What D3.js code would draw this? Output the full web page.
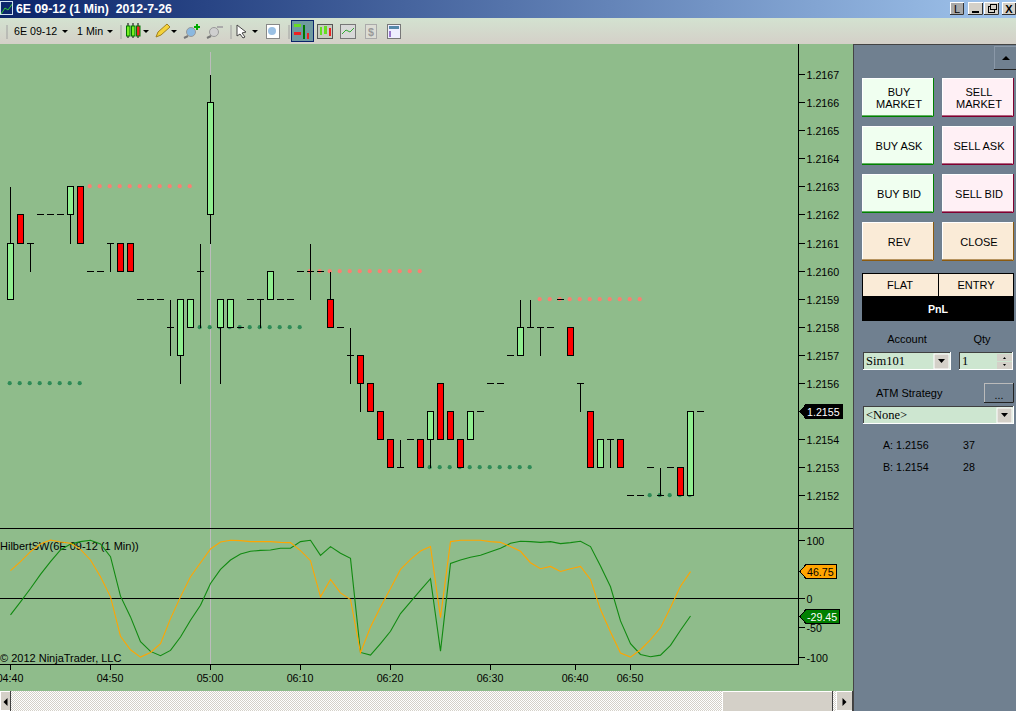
<!DOCTYPE html>
<html><head><meta charset="utf-8">
<style>html,body{margin:0;padding:0;background:#708090;overflow:hidden}svg{display:block}text{font-family:"Liberation Sans",Arial,sans-serif;font-size:10.67px;fill:#000}</style>
<script src="https://cdn.jsdelivr.net/npm/d3@7"></script></head><body><div id="c"></div>
<script>
const titleText = "6E 09-12 (1 Min)  2012-7-26";
const opens = [1.2159,1.2162,1.2161,1.2162,1.2162,1.2162,1.2162,1.2163,1.2160,1.2160,1.2161,1.2161,1.2161,1.2159,1.2159,1.2159,1.2158,1.2157,1.2158,1.2160,1.2162,1.2158,1.2158,1.2158,1.2159,1.2159,1.2159,1.2159,1.2159,1.2160,1.2160,1.2160,1.2159,1.2158,1.2157,1.2157,1.2156,1.2155,1.2154,1.2153,1.2154,1.2154,1.2154,1.2156,1.2155,1.2154,1.2154,1.2155,1.2156,1.2156,1.2157,1.2157,1.2158,1.2158,1.2158,1.2159,1.2158,1.2156,1.2155,1.2153,1.2154,1.2154,1.2152,1.2152,1.2153,1.2152,1.2153,1.2153,1.2152,1.2155];
const highs = [1.2163,1.2162,1.2161,1.2162,1.2162,1.2162,1.2163,1.2163,1.2160,1.2160,1.2161,1.2161,1.2161,1.2159,1.2159,1.2159,1.2159,1.2159,1.2159,1.2161,1.2167,1.2159,1.2159,1.2158,1.2159,1.2159,1.2160,1.2159,1.2159,1.2160,1.2161,1.2160,1.2160,1.2158,1.2158,1.2157,1.2156,1.2155,1.2154,1.2154,1.2154,1.2154,1.2155,1.2156,1.2155,1.2154,1.2155,1.2155,1.2156,1.2156,1.2157,1.2159,1.2159,1.2158,1.2158,1.2159,1.2158,1.2156,1.2155,1.2154,1.2154,1.2154,1.2152,1.2152,1.2153,1.2153,1.2153,1.2153,1.2155,1.2155];
const lows = [1.2159,1.2161,1.2160,1.2162,1.2162,1.2162,1.2161,1.2161,1.2160,1.2160,1.2160,1.2160,1.2160,1.2159,1.2159,1.2159,1.2157,1.2156,1.2158,1.2158,1.2161,1.2156,1.2158,1.2158,1.2159,1.2158,1.2159,1.2159,1.2159,1.2160,1.2159,1.2160,1.2158,1.2158,1.2156,1.2155,1.2155,1.2154,1.2153,1.2153,1.2154,1.2153,1.2153,1.2154,1.2154,1.2153,1.2154,1.2155,1.2156,1.2156,1.2157,1.2157,1.2158,1.2157,1.2158,1.2159,1.2157,1.2155,1.2153,1.2153,1.2153,1.2153,1.2152,1.2152,1.2153,1.2152,1.2153,1.2152,1.2152,1.2155];
const closes = [1.2161,1.2161,1.2161,1.2162,1.2162,1.2162,1.2163,1.2161,1.2160,1.2160,1.2161,1.2160,1.2160,1.2159,1.2159,1.2159,1.2158,1.2159,1.2159,1.2160,1.2166,1.2159,1.2159,1.2158,1.2159,1.2159,1.2160,1.2159,1.2159,1.2160,1.2160,1.2160,1.2158,1.2158,1.2157,1.2156,1.2155,1.2154,1.2153,1.2153,1.2154,1.2153,1.2155,1.2154,1.2154,1.2153,1.2155,1.2155,1.2156,1.2156,1.2157,1.2158,1.2158,1.2158,1.2158,1.2159,1.2157,1.2156,1.2153,1.2154,1.2154,1.2153,1.2152,1.2152,1.2153,1.2152,1.2153,1.2152,1.2155,1.2155];
const redStops = [[8,18,1.2163],[30,41,1.2160],[53,63,1.2159]];
const greenStops = [[0,7,1.2156],[19,29,1.2158],[42,52,1.2153],[64,68,1.2152]];
const hilbertOrange = [48.3,63.8,81,94,101,97.7,95.4,85,66.7,38,3.4,-64.4,-87.4,-100,-92,-77,-33.9,3.4,38,62,85.6,97.7,100.6,100,98.3,98.3,98.3,97,96.6,82.8,65.5,3.4,33.3,10.3,-1.1,-92.5,-48.3,-13.8,17.8,50.6,67.8,82.2,89.7,-32.2,98.3,100.6,100.6,100.6,98.3,97,89.7,81.6,62,51.7,55.7,47,51.7,55.7,33.3,-18.4,-56.9,-93.1,-100,-87.4,-70.1,-49.4,-14.9,21.8,46.75];
const hilbertGreen = [-27.6,-5.2,17.8,42,63.8,83.9,94.3,98.3,100.6,94.3,72.4,4.6,-31,-73.6,-90.2,-97.7,-88.5,-65.5,-36.8,-10.9,26.4,50.6,66.7,77,81.6,83.3,83.9,86.8,86.8,98.3,100.6,74.7,89.7,78.2,69.5,-92,-96.6,-77,-55.7,-25.3,-5.2,14.9,34.5,-89.7,60.9,66.7,71.3,74.7,81,86.8,95.4,98.9,98.3,97,98.3,94.8,96.6,98.9,89.7,56.3,20.7,-37.9,-77,-95.4,-99.4,-96.6,-79.9,-54,-29.45];
const priceTicks = [1.2152,1.2153,1.2154,1.2155,1.2156,1.2157,1.2158,1.2159,1.2160,1.2161,1.2162,1.2163,1.2164,1.2165,1.2166,1.2167];
const indicatorTicks = [100,0,-50,-100];
const timeTickIndex = [0,10,20,29,38,48,56.5,62];
const timeTickLabel = ["04:40","04:50","05:00","06:10","06:20","06:30","06:40","06:50"];
const cursorIndex = 20;
const lastPrice = 1.2155;
const buttonRows = [["BUY\nMARKET","SELL\nMARKET"],["BUY ASK","SELL ASK"],["BUY BID","SELL BID"],["REV","CLOSE"]];
const quotes = [["A: 1.2156","37"],["B: 1.2154","28"]];

const svg = d3.select("#c").append("svg").attr("width",1016).attr("height",711);
const defs = svg.append("defs");
const tg = defs.append("linearGradient").attr("id","tg");
tg.append("stop").attr("offset",0).attr("stop-color","#0a246a");
tg.append("stop").attr("offset",1).attr("stop-color","#a0c4ec");
const bg = defs.append("linearGradient").attr("id","bg").attr("x2",0).attr("y2",1);
bg.append("stop").attr("offset",0).attr("stop-color","#d3e2d0");
bg.append("stop").attr("offset",1).attr("stop-color","#d4d0c8");
const pat = defs.append("pattern").attr("id","chk").attr("width",2).attr("height",2).attr("patternUnits","userSpaceOnUse");
pat.append("rect").attr("width",2).attr("height",2).attr("fill","#fff");
pat.append("rect").attr("width",1).attr("height",1).attr("fill","#d4d0c8");
pat.append("rect").attr("x",1).attr("y",1).attr("width",1).attr("height",1).attr("fill","#d4d0c8");

const R = (g,x,y,w,h,f,s) => g.append("rect").attr("x",x).attr("y",y).attr("width",w).attr("height",h).attr("fill",f).attr("stroke",s||"none");
const T = (g,x,y,t,a,extra) => { const e=g.append("text").attr("x",x).attr("y",y).attr("text-anchor",a||"start").text(t); if(extra) Object.entries(extra).forEach(([k,v])=>e.style(k,v)); return e; };
const snap = v => Math.floor(v)+.5;

// plot background
R(svg,0,44,853,647,"#8fbc8b");

const x = d3.scaleLinear().domain([0,68]).range([10.5,690.5]);
const yP = d3.scaleLinear().domain([1.2152,1.2167]).range([495.9,74.475]);
const yI = d3.scaleLinear().domain([-100,100]).range([657.1,540.6]);

// cursor line
const plot = svg.append("g");
plot.append("line").attr("x1",x(cursorIndex)).attr("x2",x(cursorIndex)).attr("y1",52).attr("y2",664).attr("stroke","#bcbcbc");

// stops
const stopG = plot.append("g");
function dots(list,col){ list.forEach(([a,b,p])=>{ stopG.selectAll(null).data(d3.range(a,b+1)).enter().append("circle").attr("cx",d=>x(d)-.8).attr("cy",snap(yP(p))-.3).attr("r",2.1).attr("fill",col); }); }

// candles
const idx = d3.range(opens.length);
const cG = plot.append("g").attr("stroke","#000").attr("shape-rendering","crispEdges");
cG.selectAll("line.w").data(idx.filter(i=>highs[i]>lows[i])).enter().append("line").attr("class","w")
 .attr("x1",x).attr("x2",x).attr("y1",i=>snap(yP(highs[i]))).attr("y2",i=>snap(yP(lows[i])));
cG.selectAll("line.d").data(idx.filter(i=>opens[i]===closes[i])).enter().append("line").attr("class","d")
 .attr("x1",i=>x(i)-3.5).attr("x2",i=>x(i)+3.5).attr("y1",i=>snap(yP(opens[i]))).attr("y2",i=>snap(yP(opens[i])));
cG.selectAll("rect").data(idx.filter(i=>opens[i]!==closes[i])).enter().append("rect")
 .attr("x",i=>x(i)-3).attr("width",6)
 .attr("y",i=>snap(yP(Math.max(opens[i],closes[i]))))
 .attr("height",i=>snap(yP(Math.min(opens[i],closes[i])))-snap(yP(Math.max(opens[i],closes[i]))))
 .attr("fill",i=>closes[i]>opens[i]?"#90ee90":"#ff0000");
dots(redStops,"#fa8072"); dots(greenStops,"#2e8b57");

// frame lines
const fr = svg.append("g").attr("stroke","#000").attr("shape-rendering","crispEdges");
fr.append("line").attr("x1",0).attr("x2",853).attr("y1",528.5).attr("y2",528.5);
fr.append("line").attr("x1",0).attr("x2",798.5).attr("y1",664.5).attr("y2",664.5);
fr.append("line").attr("x1",798.5).attr("x2",798.5).attr("y1",44).attr("y2",664.5);
fr.append("line").attr("x1",0).attr("x2",798.5).attr("y1",snap(yI(0))).attr("y2",snap(yI(0)));

// indicator
T(svg,0,550,"HilbertSW(6E 09-12 (1 Min))","start",{"font-size":"11px"});
T(svg,0,662,"© 2012 NinjaTrader, LLC","start",{"font-size":"11px"});
const line = d3.line().x((d,i)=>x(i)).y(d=>yI(d));
svg.append("path").datum(hilbertGreen).attr("d",line).attr("fill","none").attr("stroke","#118a11").attr("stroke-width",1.1);
svg.append("path").datum(hilbertOrange).attr("d",line).attr("fill","none").attr("stroke","#ffa500").attr("stroke-width",1.1);

// axes
function styleAxis(g){ g.select(".domain").remove(); g.selectAll("line").attr("stroke","#000").attr("shape-rendering","crispEdges"); g.selectAll("text").style("font-family",'"Liberation Sans",Arial,sans-serif').style("font-size","10.67px").attr("fill","#000"); }
const ax1 = svg.append("g").attr("transform","translate(798.5,0)").call(d3.axisRight(yP).tickValues(priceTicks).tickFormat(d=>d.toFixed(4)).tickSize(6).tickPadding(2).offset(0)).call(styleAxis);
ax1.selectAll(".tick").attr("transform",d=>`translate(0,${snap(yP(d))})`);
ax1.selectAll("text").attr("dy","0.42em");
const ax2 = svg.append("g").attr("transform","translate(798.5,0)").call(d3.axisRight(yI).tickValues(indicatorTicks).tickFormat(d=>String(d)).tickSize(6).tickPadding(2).offset(0)).call(styleAxis);
ax2.selectAll(".tick").attr("transform",d=>`translate(0,${snap(yI(d))})`);
ax2.selectAll("text").attr("dy","0.42em");
const ax3 = svg.append("g").attr("transform","translate(0,664.5)").call(d3.axisBottom(x).tickValues(timeTickIndex).tickFormat((d,i)=>timeTickLabel[i]).tickSize(5).tickPadding(5).offset(0)).call(styleAxis);
ax3.selectAll(".tick").attr("transform",d=>`translate(${snap(x(d))-.5},0)`);

// value flags
function flag(yv,w,fill,tc,label){ const y=snap(yv); const g=svg.append("g");
 g.append("path").attr("d",`M800,${y} l6,-7 h${w} v14 h-${w} z`).attr("fill",fill).attr("stroke","#000").attr("shape-rendering","crispEdges");
 T(g,807,y+4,label,"start",{fill:tc}); }
flag(yP(lastPrice),36,"#000","#fff",lastPrice.toFixed(4));
flag(yI(hilbertOrange[hilbertOrange.length-1]),30,"#ffa500","#000",hilbertOrange[hilbertOrange.length-1].toFixed(2));
flag(yI(hilbertGreen[hilbertGreen.length-1]),33,"#008000","#fff",hilbertGreen[hilbertGreen.length-1].toFixed(2));

// scrollbar
R(svg,0,691,853,20,"url(#chk)");
function sbtn(x0,w,dir){ R(svg,x0,691,w,20,"#d4d0c8"); svg.append("rect").attr("x",x0+.5).attr("y",691.5).attr("width",w-1).attr("height",19).attr("fill","none").attr("stroke","#fff");
 svg.append("line").attr("x1",x0+w-.5).attr("x2",x0+w-.5).attr("y1",691).attr("y2",711).attr("stroke","#404040");
 const c=x0+w/2; svg.append("path").attr("d",dir<0?`M${c-2},702 l4,-4 v8 z`:`M${c-2},698 l4,4 l-4,4 z`).attr("fill","#000"); }
sbtn(0,11,-1);
R(svg,722,691,111,20,"#d4d0c8");
svg.append("path").attr("d","M722.5,711 V691.5 H833").attr("fill","none").attr("stroke","#fff");
svg.append("line").attr("x1",832.5).attr("x2",832.5).attr("y1",691).attr("y2",711).attr("stroke","#404040");
sbtn(836,17,1);

// title bar
R(svg,0,0,1016,18,"url(#tg)");
T(svg,16,13,titleText,"start",{fill:"#fff","font-weight":"bold","font-size":"12.3px","white-space":"pre"});
svg.append("path").attr("d","M1,14 L5,8 L8,10 L13,3").attr("fill","none").attr("stroke","#3c3");
R(svg,0.5,1.5,12,13,"none","#cfe0f0");
// window buttons
[[950,14],[968,15],[984,15],[1002,14]].forEach(([bx,w],i)=>{
 R(svg,bx+.5,2.5,w-1,12,i==0?"#a8a8a8":"#d4d0c8","#fff");
 svg.append("path").attr("d",`M${bx+w-.5},3 V14.5 H${bx}`).attr("fill","none").attr("stroke","#333");
});
T(svg,957,13,"L","middle",{"font-size":"11px"});
R(svg,972,11,7,2,"#000");
R(svg,988.5,6.5,6,6,"none","#000"); R(svg,990.5,4.5,6,5,"#d4d0c8","#000");
T(svg,1009,13,"X","middle",{"font-size":"11px","font-weight":"bold"});

// toolbar
R(svg,0,18,1016,26,"url(#bg)");
[7,121,231,289].forEach(sx=>{ svg.append("line").attr("x1",sx).attr("x2",sx).attr("y1",25).attr("y2",39).attr("stroke","#a0a0a0"); });
const arrow=(ax,ay=31)=>svg.append("path").attr("d",`M${ax-3},${ay-1} h6 l-3,3 z`).attr("fill","#000");
T(svg,14,35,"6E 09-12"); arrow(65);
T(svg,77,35,"1 Min"); arrow(110);
[128,133,138].forEach((cx,i)=>{ svg.append("line").attr("x1",cx).attr("x2",cx).attr("y1",23).attr("y2",38).attr("stroke","#000"); R(svg,cx-1.5,26,3.5,10,i==2?"#e22":"#7e2","#070"); });
arrow(146);
svg.append("path").attr("d","M156,37 l2,-5 l9,-8 l3,3 l-9,8 z").attr("fill","#f4d23a").attr("stroke","#a08020");
arrow(174);
[[191,"#8ab8e0"],[214,"#cfcfcf"]].forEach(([cx,f])=>{ svg.append("circle").attr("cx",cx).attr("cy",32).attr("r",4.5).attr("fill",f).attr("stroke","#999"); svg.append("line").attr("x1",cx-3).attr("y1",36).attr("x2",cx-7).attr("y2",38).attr("stroke","#777").attr("stroke-width",2); });
svg.append("path").attr("d","M194,27 h6 M197,24 v6").attr("stroke","#0a0").attr("stroke-width",2).attr("fill","none");
svg.append("path").attr("d","M217,27 h6").attr("stroke","#aaa").attr("stroke-width",2);
svg.append("path").attr("d","M237,25 v11 l3,-2 l3,4 l2,-1 l-3,-4 l4,-1 z").attr("fill","#fff").attr("stroke","#444");
arrow(255);
R(svg,266.5,24.5,13,14,"#fff","#888"); svg.append("circle").attr("cx",272).attr("cy",31).attr("r",4).attr("fill","#9ac0e4");
R(svg,291.5,20.5,22,21,"#6f9aa0","#0a246a");
R(svg,294,24,7,3,"#6d2"); R(svg,294,32,7,3,"#e22"); svg.append("line").attr("x1",304).attr("x2",304).attr("y1",25).attr("y2",39).attr("stroke","#070").attr("stroke-width",2); R(svg,307,33,2,6,"#e22");
R(svg,317.5,24.5,15,14,"#c8ccc0","#555"); R(svg,320,27,2,8,"#6d2"); R(svg,324,26,3,8,"#6d2"); R(svg,329,28,2,8,"#e22");
R(svg,340.5,24.5,15,14,"#d8d8d8","#777"); svg.append("path").attr("d","M342,34 l4,-4 l4,2 l4,-4").attr("fill","none").attr("stroke","#3a3");
R(svg,365.5,24.5,11,14,"#dcdcd4","#aaa"); T(svg,368,36,"$","start",{fill:"#999","font-weight":"bold"});
R(svg,387.5,24.5,13,14,"#eef","#777"); R(svg,389,26,10,3,"#58a"); R(svg,389,31,2,6,"#97c");

// right panel
R(svg,853,44,163,667,"#708090");
svg.append("line").attr("x1",853.5).attr("x2",853.5).attr("y1",44).attr("y2",711).attr("stroke","#444");
svg.append("line").attr("x1",854).attr("x2",1016).attr("y1",44.5).attr("y2",44.5).attr("stroke","#444");
R(svg,994.5,46.5,22,23,"#708090","#8a98a8");
svg.append("path").attr("d","M994,69.5 h22").attr("stroke","#222");
svg.append("path").attr("d","M1002,60 l4,-4 l4,4 z").attr("fill","#000");

const cols=[862,942], widths=[72,72], rowsY=[78,126,174,222];
const fills=[["#f0fff0","#fff0f5"],["#f0fff0","#fff0f5"],["#f0fff0","#fff0f5"],["#faebd7","#faebd7"]];
const edges=[["#008000","#800030"],["#008000","#800030"],["#008000","#800030"],["#8b5a10","#8b5a10"]];
buttonRows.forEach((row,r)=>row.forEach((label,c)=>{
 const X=cols[c],Y=rowsY[r];
 R(svg,X,Y,widths[c],39,fills[r][c]);
 svg.append("path").attr("d",`M${X+.5},${Y+39} V${Y+.5} H${X+72}`).attr("fill","none").attr("stroke","#fff");
 svg.append("path").attr("d",`M${X},${Y+38.5} H${X+71.5} V${Y}`).attr("fill","none").attr("stroke",edges[r][c]);
 svg.append("path").attr("d",`M${X},${Y+37.5} H${X+70.5}`).attr("fill","none").attr("stroke",edges[r][c]).attr("opacity",.6);
 const lines=label.split("\n");
 lines.forEach((t,j)=>T(svg,X+37,Y+(lines.length>1?18+j*12:24),t,"middle",{"font-size":"11px"}));
}));
R(svg,862.5,273.5,151,23,"#faebd7","#000");
svg.append("line").attr("x1",938.5).attr("x2",938.5).attr("y1",273).attr("y2",296).attr("stroke","#000");
T(svg,900,289,"FLAT","middle",{"font-size":"11px"}); T(svg,976,289,"ENTRY","middle",{"font-size":"11px"});
R(svg,862,296,152,25,"#000"); T(svg,938,313,"PnL","middle",{fill:"#fff","font-weight":"bold"});
T(svg,907,343,"Account","middle",{"font-size":"11px"}); T(svg,982,343,"Qty","middle",{"font-size":"11px"});
function combo(X,Y,W,H,t){ R(svg,X,Y,W,H,"#fff"); R(svg,X,Y,W-1,H-1,"#404040"); R(svg,X+1,Y+1,W-2,H-2,"#cde6d0");
 T(svg,X+3,Y+13,t,"start",{"font-family":'"Liberation Serif",serif',"font-size":"12.5px"}); }
combo(863,352,88,18,"Sim101");
R(svg,934,354,15,15,"#d4d0c8","#fff"); svg.append("path").attr("d","M938,359 h7 l-3.5,4 z").attr("fill","#000");
combo(959,352,54,18,"1");
R(svg,997,354,15,7,"#d4d0c8"); R(svg,997,362,15,7,"#d4d0c8");
svg.append("path").attr("d","M1003,359 h3 l-1.5,-2 z M1003,364 h3 l-1.5,2 z").attr("fill","#000");
T(svg,876,397,"ATM Strategy","start",{"font-size":"11px"});
R(svg,984.5,383.5,29,19,"#708090","#bbb"); svg.append("path").attr("d","M984,402.5 H1013.5 V383").attr("fill","none").attr("stroke","#222");
T(svg,999,399,"...","middle");
combo(863,406,151,18,"<None>");
R(svg,997,408,15,15,"#d4d0c8","#fff"); svg.append("path").attr("d","M1001,413 h7 l-3.5,4 z").attr("fill","#000");
quotes.forEach(([a,b],i)=>{ T(svg,883,449+i*22,a,"start",{"font-size":"10.67px"}); T(svg,963,449+i*22,b,"start"); });
</script></body></html>
